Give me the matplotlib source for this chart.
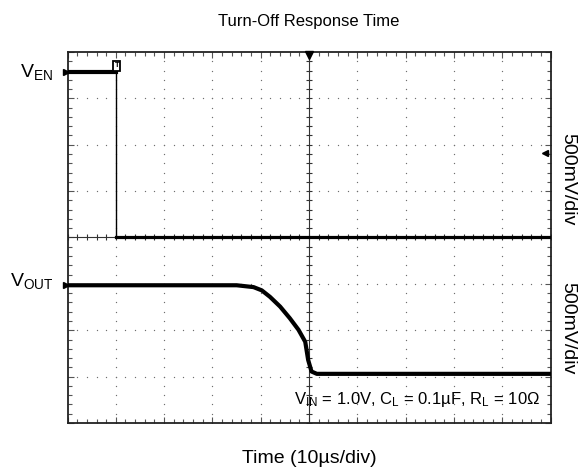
"""Turn-off response time: oscilloscope capture of V_EN and V_OUT."""

import matplotlib

matplotlib.use("Agg")
import matplotlib.pyplot as plt
import numpy as np

plt.rcParams["font.family"] = ["Liberation Sans", "DejaVu Sans"]
plt.rcParams["mathtext.fontset"] = "custom"
plt.rcParams["mathtext.rm"] = "Liberation Sans"
plt.rcParams["mathtext.it"] = "Liberation Sans:italic"
plt.rcParams["mathtext.bf"] = "Liberation Sans:bold"

# time in divisions (10 us/div), voltage in screen divisions (500 mV/div)
en_t = [0.0, 1.0, 1.0, 10.0]
en_v = [7.56, 7.56, 4.0, 4.0]
out_t = [0.0, 3.50, 3.85, 4.02, 4.19, 4.40, 4.60, 4.78, 4.92, 4.98, 5.05, 5.16, 10.0]
out_v = [2.97, 2.97, 2.93, 2.86, 2.72, 2.51, 2.26, 2.01, 1.75, 1.36, 1.11, 1.06, 1.06]

x_divs = 10
y_divs = 8
trig_t, trig_v = 1.02, 7.70
ref_t, ref_v = 9.88, 5.82

title = "Turn-Off Response Time"
xlabel = "Time (10µs/div)"
scale_label = "500mV/div"
cond_label = r"V$_{\mathrm{IN}}$ = 1.0V, C$_{\mathrm{L}}$ = 0.1µF, R$_{\mathrm{L}}$ = 10Ω"


def generate() -> None:
    fig = plt.figure(figsize=(5.78, 4.73), dpi=100)
    ax = fig.add_axes([0.1168, 0.1057, 0.8360, 0.7844])
    ax.set_xlim(0, x_divs)
    ax.set_ylim(0, y_divs)

    # dotted graticule, one dot per fifth of a division
    sub_x = np.arange(0, x_divs + 0.01, 0.2)
    sub_y = np.arange(0, y_divs + 0.01, 0.2)
    for gx in range(1, x_divs):
        if gx != x_divs // 2:
            ax.scatter(np.full_like(sub_y, gx), sub_y, s=0.9, color="#6e6e6e", lw=0, zorder=1)
    for gy in range(1, y_divs):
        if gy != y_divs // 2:
            ax.scatter(sub_x, np.full_like(sub_x, gy), s=0.9, color="#6e6e6e", lw=0, zorder=1)

    # centre axes with tick marks
    ax.axvline(x_divs / 2, color="#333333", lw=0.8, zorder=2)
    ax.axhline(y_divs / 2, color="#333333", lw=0.8, zorder=2)
    ax.plot(np.full_like(sub_y, x_divs / 2), sub_y, ls="none", marker="_", ms=5,
            mew=0.8, color="#333333", zorder=2)
    ax.plot(sub_x, np.full_like(sub_x, y_divs / 2), ls="none", marker="|", ms=5,
            mew=0.8, color="#333333", zorder=2)

    # traces
    ax.plot(en_t, en_v, color="black", lw=1.0, zorder=4)
    ax.plot(en_t[:2], en_v[:2], color="black", lw=3.0, zorder=4)
    ax.plot(en_t[2:], en_v[2:], color="black", lw=2.3, zorder=4)
    ax.plot(out_t, out_v, color="black", lw=3.0, solid_joinstyle="round", zorder=4)

    # scope markers
    for lvl in (en_v[0], out_v[0]):
        ax.plot(-0.03, lvl, marker=">", ms=5, color="black", clip_on=False, zorder=5)
    ax.plot(x_divs / 2, y_divs - 0.06, marker="v", ms=6, color="black", clip_on=False, zorder=5)
    ax.plot(ref_t, ref_v, marker="<", ms=4, color="black", zorder=5)
    ax.plot([ref_t, ref_t + 0.06], [ref_v, ref_v], color="black", lw=1.0, zorder=5)
    ax.text(trig_t, trig_v, "T", fontsize=5.5, weight="bold", ha="center", va="center",
            zorder=6, bbox=dict(boxstyle="square,pad=0.15", fc="white", ec="black", lw=1.3))

    # frame with inward ticks
    ax.set_xticks(range(0, x_divs + 1))
    ax.set_yticks(range(0, y_divs + 1))
    ax.set_xticks(sub_x, minor=True)
    ax.set_yticks(sub_y, minor=True)
    ax.tick_params(which="both", direction="in", top=True, right=True,
                   labelbottom=False, labelleft=False, color="#555555", width=0.8)
    ax.tick_params(which="major", length=4)
    ax.tick_params(which="minor", length=3)
    for sp in ax.spines.values():
        sp.set_color("#222222")
        sp.set_linewidth(1.3)

    ax.text(7.24, 0.50, cond_label, fontsize=12, ha="center", va="center", zorder=6)

    fig.text(0.0925, 0.837, r"V$_{\mathrm{EN}}$", fontsize=14, ha="right", va="baseline")
    fig.text(0.0925, 0.396, r"V$_{\mathrm{OUT}}$", fontsize=14, ha="right", va="baseline")
    fig.text(0.983, 0.6216, scale_label, fontsize=14, rotation=270, ha="center", va="center")
    fig.text(0.983, 0.3066, scale_label, fontsize=14, rotation=270, ha="center", va="center")
    fig.text(0.5348, 0.955, title, fontsize=12, ha="center", va="center")
    fig.text(0.5348, 0.0317, xlabel, fontsize=14, ha="center", va="center")

    fig.savefig("out.png", dpi=100)


if __name__ == "__main__":
    generate()
